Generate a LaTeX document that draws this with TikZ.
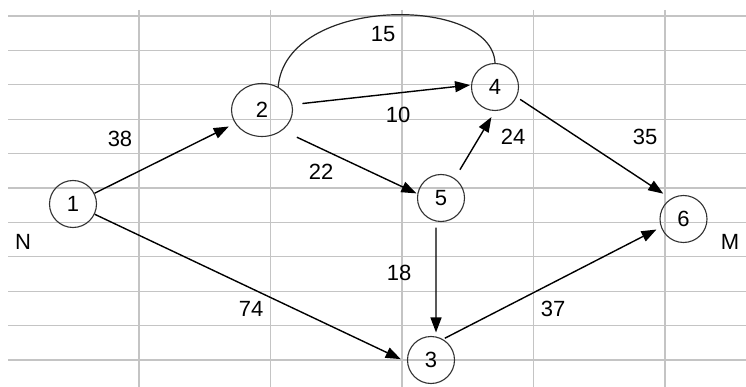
\documentclass[tikz,border=0pt]{standalone}
\usepackage{fontspec}
\setmainfont{Liberation Sans}
\usetikzlibrary{arrows.meta,shapes.geometric}
\definecolor{gridgray}{RGB}{196,196,196}
\definecolor{nodegray}{RGB}{50,50,50}
\begin{document}
\begin{tikzpicture}[x=1pt,y=-1pt,
  gridline/.style={draw=gridgray,line width=1.3pt},
  vnode/.style={circle,draw=nodegray,line width=1.1pt,minimum size=47pt,inner sep=0pt,font=\fontsize{22}{22}\selectfont},
  enode/.style={ellipse,draw=nodegray,line width=1.1pt,minimum width=61pt,minimum height=53pt,inner sep=0pt,font=\fontsize{22}{22}\selectfont},
  wlabel/.style={inner sep=0pt,font=\fontsize{22}{22}\selectfont},
  arr/.style={draw=black,line width=1.4pt,-{Triangle[length=15pt,width=11pt]}},
  arcline/.style={draw=black!85,line width=1.2pt}]
\useasboundingbox (0,0) rectangle (746,387);
\fill[white] (0,0) rectangle (746,387);
% grid
\foreach \k in {0,...,10} {
  \draw[gridline] (8,{16+34.4*\k}) -- (746,{16+34.4*\k});
}
\foreach \gx in {139,270.5,402,533.5,665} {
  \draw[gridline] (\gx,10) -- (\gx,387);
}
% nodes
\node[vnode] (n1) at (73,204) {1};
\node[enode] (n2) at (262,110) {2};
\node[vnode] (n3) at (431,360) {3};
\node[vnode] (n4) at (495,87) {4};
\node[vnode] (n5) at (441,198) {5};
\node[vnode] (n6) at (683.5,219) {6};
% edge labels
\node[wlabel] (l38) at (120,139) {38};
\node[wlabel] (l22) at (321,172) {22};
\node[wlabel] (l15) at (383,34) {15};
\node[wlabel] (l10) at (398,115) {10};
\node[wlabel] (l24) at (513,137) {24};
\node[wlabel] (l35) at (645,137) {35};
\node[wlabel] (l18) at (399,273) {18};
\node[wlabel] (l37) at (553,309) {37};
\node[wlabel] (l74) at (251,309) {74};
\node[wlabel] (lN) at (23,242) {N};
\node[wlabel] (lM) at (730,242) {M};
% edges
\draw[arr,shorten >=7pt] (n1) -- (n2);
\draw[arr,shorten >=7pt] (n1) -- (n3.185);
\draw[arr,shorten <=10pt,shorten >=1pt] (n2.10) -- (n4.175);
\draw[arr,shorten <=16pt,shorten >=1pt] (n2.-45) -- (n5.170);
\draw[arr,shorten <=10pt,shorten >=7pt] (n5.55) -- (n4.south);
\draw[arr,shorten <=4pt,shorten >=9pt] (n4.-25) -- (n6.122);
\draw[arr,shorten <=6pt,shorten >=4pt] (n5.258) -- (n3.78);
\draw[arr,shorten <=2pt,shorten >=5pt] (n3.60) -- (n6.200);
\draw[arcline] (n2.55) .. controls (286,-5) and (492,-5) .. (n4.north);
\end{tikzpicture}
\end{document}
